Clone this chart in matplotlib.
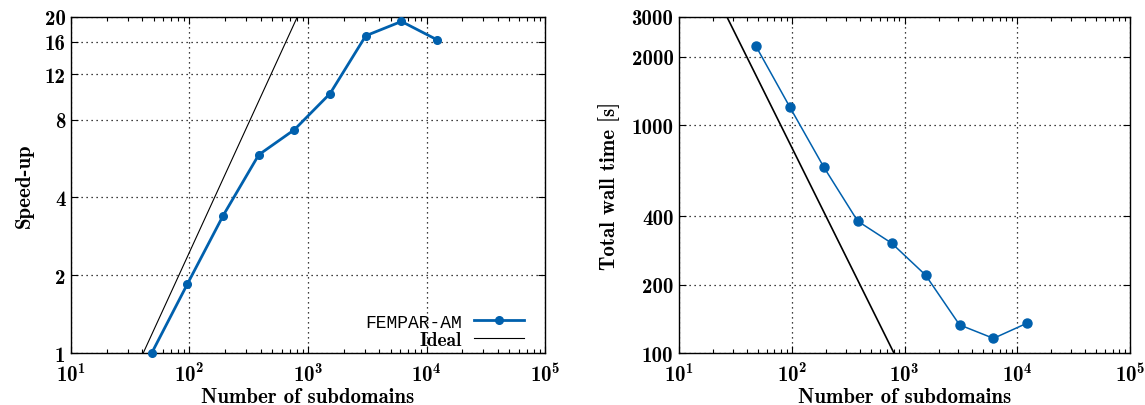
import matplotlib
matplotlib.use("Agg")
import matplotlib.pyplot as plt
from matplotlib.ticker import FixedLocator, NullFormatter, LogLocator

plt.rcParams['font.family'] = ['cmb10', 'DejaVu Serif']
plt.rcParams['mathtext.fontset'] = 'custom'
plt.rcParams['mathtext.rm'] = 'cmb10'
plt.rcParams['mathtext.bf'] = 'cmb10'
plt.rcParams['mathtext.it'] = 'cmb10'
plt.rcParams['axes.unicode_minus'] = False

# dados
subdominios = [48, 96, 192, 384, 768, 1536, 3072, 6144, 12288]
speedup = [1.0, 1.85, 3.40, 5.85, 7.32, 10.1, 16.9, 19.2, 16.3]
tempo = [2235, 1206, 657, 380, 304, 220, 133, 116, 135.5]

ideal_sp_x = [40.7, 813]
ideal_sp_y = [1, 20]
ideal_t_x = [26.6, 805]
ideal_t_y = [3000, 100]

yticks_sp = [1, 2, 4, 8, 12, 16, 20]
yticks_t = [100, 200, 400, 1000, 2000, 3000]
xticks = [10, 100, 1000, 10000, 100000]
xlabels = [r'$10^{1}$', r'$10^{2}$', r'$10^{3}$', r'$10^{4}$', r'$10^{5}$']

azul = '#0060ad'

fig = plt.figure(figsize=(11.45, 4.06), dpi=100)
ax1 = fig.add_axes([0.062, 0.128, 0.414, 0.828])
ax2 = fig.add_axes([0.593, 0.128, 0.394, 0.828])


def estilo(ax, yt):
    ax.set_xscale('log')
    ax.set_yscale('log')
    ax.set_xlim(10, 1e5)
    ax.set_ylim(yt[0], yt[-1])
    ax.xaxis.set_major_locator(FixedLocator(xticks))
    ax.set_xticklabels(xlabels)
    ax.xaxis.set_minor_locator(LogLocator(base=10, subs=range(2, 10)))
    ax.xaxis.set_minor_formatter(NullFormatter())
    ax.yaxis.set_major_locator(FixedLocator(yt))
    ax.set_yticklabels([str(v) for v in yt])
    ax.yaxis.set_minor_locator(FixedLocator([]))
    ax.tick_params(which='both', direction='in', top=True, right=True, labelsize=15)
    ax.tick_params(axis='y', pad=4)
    ax.tick_params(axis='x', pad=7)
    ax.tick_params(which='major', length=5, width=0.8)
    ax.tick_params(which='minor', length=3, width=0.8)
    for s in ax.spines.values():
        s.set_linewidth(1.0)
    ax.grid(True, which='major', linestyle=(0, (1, 3)), color='black', linewidth=0.9)
    ax.set_xlabel('Number of subdomains', fontsize=15, labelpad=1)


#Plotagem esquerda
estilo(ax1, yticks_sp)
ax1.plot(subdominios, speedup, color=azul, lw=2, marker='o', ms=5.5, label='FEMPAR-AM', clip_on=False, zorder=3)
ax1.plot(ideal_sp_x, ideal_sp_y, color='black', lw=0.8, label='Ideal', zorder=2)
ax1.set_ylabel('Speed-up', fontsize=15, labelpad=8)
leg = ax1.legend(loc='lower right', frameon=False, markerfirst=False, fontsize=14,
                 handlelength=2.55, borderaxespad=0.0, labelspacing=0.0, handletextpad=0.65,
                 bbox_to_anchor=(0.972, -0.012))
leg.get_texts()[0].set_family('Liberation Mono')
leg.get_texts()[0].set_fontsize(13)

#Plotagem direita
estilo(ax2, yticks_t)
ax2.plot(subdominios, tempo, color=azul, lw=1.1, marker='o', ms=6.5, zorder=3)
ax2.plot(ideal_t_x, ideal_t_y, color='black', lw=1.2, zorder=2)
ax2.set_ylabel('Total wall time [s]', fontsize=15, labelpad=8)

fig.savefig('out.png', dpi=100)
